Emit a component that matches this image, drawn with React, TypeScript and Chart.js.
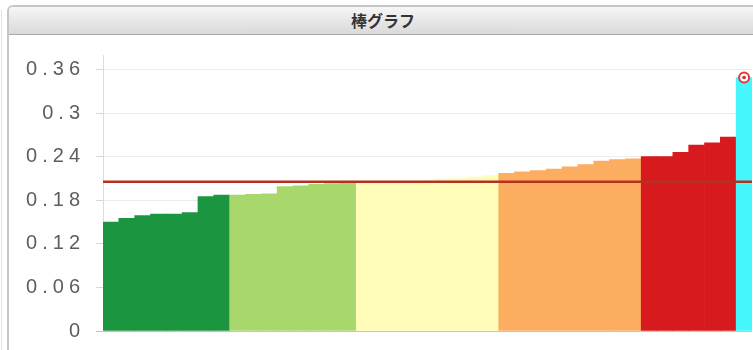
import React, { useEffect, useRef } from "react";
import { Chart, registerables } from "chart.js";

Chart.register(...registerables);

// Bar heights, grouped by colour band (lowest to highest)
const bandDarkGreen = [0.150, 0.155, 0.159, 0.161, 0.161, 0.163, 0.185, 0.187];
const bandLightGreen = [0.187, 0.188, 0.189, 0.199, 0.200, 0.202, 0.203, 0.204];
const bandYellow = [0.205, 0.205, 0.206, 0.206, 0.207, 0.209, 0.210, 0.212, 0.214];
const bandOrange = [0.217, 0.219, 0.221, 0.223, 0.226, 0.229, 0.234, 0.236, 0.237];
const bandRed = [0.240, 0.240, 0.246, 0.256, 0.259, 0.267];
const bandCyan = [0.349];

const bands = [bandDarkGreen, bandLightGreen, bandYellow, bandOrange, bandRed, bandCyan];
const bandColors = ["#1b9540", "#a8d86c", "#fffcb8", "#fdad60", "#d61a1d", "#45f6fc"];

// Horizontal reference level drawn across the plot
const referenceLevel = 0.2055;

// Y axis tick values
const yTicks = [0, 0.06, 0.12, 0.18, 0.24, 0.3, 0.36];
const yMax = 0.38;

const values: number[] = bands.flat();
const barColors: string[] = bands.flatMap((b, i) => b.map(() => bandColors[i]));
const categories: string[] = values.map((_, i) => String(i + 1));
const highlightIndex = values.length - 1;

const letterSpacingPlugin = {
  id: "tickLetterSpacing",
  beforeDraw(chart: any) {
    chart.ctx.letterSpacing = "5px";
  },
  afterDraw(chart: any) {
    chart.ctx.letterSpacing = "0px";
  },
};

const referenceLinePlugin = {
  id: "referenceLine",
  afterDatasetsDraw(chart: any) {
    const { ctx, chartArea, scales } = chart;
    const y = scales.y.getPixelForValue(referenceLevel);
    ctx.save();
    ctx.letterSpacing = "0px";
    ctx.strokeStyle = "#b5301f";
    ctx.lineWidth = 2.6;
    ctx.beginPath();
    ctx.moveTo(chartArea.left, y);
    ctx.lineTo(chartArea.right, y);
    ctx.stroke();
    ctx.restore();
  },
};

function BarChart() {
  const canvasRef = useRef<HTMLCanvasElement | null>(null);

  useEffect(() => {
    if (!canvasRef.current) return;
    const markerData = values.map((v, i) => (i === highlightIndex ? v : null));
    const chart = new Chart(canvasRef.current, {
      type: "bar",
      data: {
        labels: categories,
        datasets: [
          {
            type: "line",
            data: markerData,
            showLine: false,
            pointRadius: 1.8,
            pointBackgroundColor: "#d8262a",
            pointBorderWidth: 0,
            clip: false,
            order: 0,
          } as any,
          {
            type: "line",
            data: markerData,
            showLine: false,
            pointRadius: 5,
            pointBackgroundColor: "#ffffff",
            pointBorderColor: "#e0383c",
            pointBorderWidth: 2,
            clip: false,
            order: 1,
          } as any,
          {
            type: "bar",
            data: values,
            backgroundColor: barColors,
            borderWidth: 0,
            barPercentage: 1,
            categoryPercentage: 1,
            order: 2,
          },
        ],
      },
      options: {
        responsive: false,
        animation: false,
        devicePixelRatio: 1,
        layout: { autoPadding: false, padding: { top: 20, right: 4, bottom: 19, left: 0 } },
        plugins: {
          legend: { display: false },
          tooltip: { enabled: false },
          title: { display: false },
        },
        scales: {
          x: {
            type: "category",
            display: false,
            grid: { display: false },
          },
          y: {
            min: 0,
            max: yMax,
            afterBuildTicks(scale: any) {
              scale.ticks = yTicks.map((v) => ({ value: v }));
            },
            afterFit(scale: any) {
              scale.width = 93;
              scale.paddingTop = 0;
              scale.paddingBottom = 0;
            },
            ticks: {
              padding: 11,
              color: "#5e5e5e",
              font: { family: "Liberation Sans", size: 20 },
              callback: (v: any) => String(v),
            },
            grid: {
              color: (c: any) => (c.tick && c.tick.value === 0 ? "#c4c4c4" : "#ececec"),
              tickColor: (c: any) => (c.tick && c.tick.value === 0 ? "#c4c4c4" : "#d8d8d8"),
              tickLength: 7,
              lineWidth: 1,
            },
            border: { color: "#dcdcdc", width: 1 },
          },
        },
      },
      plugins: [letterSpacingPlugin, referenceLinePlugin],
    });
    return () => chart.destroy();
  }, []);

  return (
    <canvas
      ref={canvasRef}
      width={746}
      height={315}
      style={{ position: "absolute", left: 1, top: 28, width: 746, height: 315 }}
    />
  );
}

export default function App() {
  return (
    <div
      style={{
        position: "fixed",
        left: 0,
        top: 0,
        width: 753,
        height: 350,
        overflow: "hidden",
        background: "#ffffff",
      }}
    >
      <div
        style={{
          position: "absolute",
          left: 1,
          top: 10,
          width: 1,
          height: 340,
          background: "#e2e2e2",
        }}
      />
      <div
        style={{
          position: "absolute",
          left: 7,
          top: 5,
          width: 800,
          height: 400,
          border: "2px solid #c6c6c6",
          borderRadius: "6px 6px 0 0",
          boxSizing: "border-box",
          overflow: "hidden",
          background: "#ffffff",
        }}
      >
        <div
          style={{
            position: "absolute",
            left: 0,
            top: 0,
            width: 748,
            height: 27,
            background: "linear-gradient(#f6f6f6, #d9d9d9)",
            borderBottom: "1px solid #a9a9a9",
            textAlign: "center",
            lineHeight: "27px",
            fontFamily: "'Noto Sans CJK JP', sans-serif",
            fontWeight: 700,
            fontSize: 16,
            color: "#333333",
          }}
        >
          棒グラフ
        </div>
        <BarChart />
      </div>
    </div>
  );
}
